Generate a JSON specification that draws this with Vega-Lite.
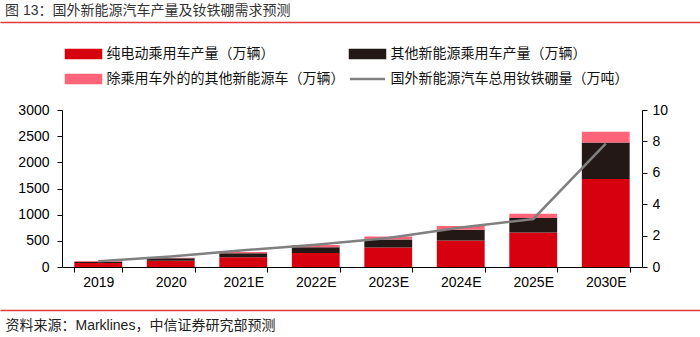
{
  "$schema": "https://vega.github.io/schema/vega-lite/v6.json",
  "width": 580,
  "height": 157,
  "autosize": {"type": "none"},
  "padding": {"left": 62, "top": 110, "right": 58, "bottom": 70},
  "background": "white",
  "config": {
    "view": {"stroke": null},
    "font": "Liberation Sans, Noto Sans CJK SC",
    "axis": {"grid": false, "domainColor": "#000", "tickColor": "#000", "labelColor": "#000", "labelFont": "Liberation Sans, Noto Sans CJK SC", "labelFontSize": 14, "tickSize": 5, "title": null}
  },
  "title": {
    "text": "图 13：国外新能源汽车产量及钕铁硼需求预测",
    "anchor": "start",
    "frame": "group",
    "dx": -57,
    "offset": 4,
    "fontSize": 14,
    "fontWeight": "normal",
    "color": "#333",
    "font": "Liberation Sans, Noto Sans CJK SC"
  },
  "datasets": {
    "bars": [
      {"year": "2019", "type": "纯电动乘用车产量（万辆）", "value": 75},
      {"year": "2019", "type": "其他新能源乘用车产量（万辆）", "value": 25},
      {"year": "2019", "type": "除乘用车外的的其他新能源车（万辆）", "value": 15},
      {"year": "2020", "type": "纯电动乘用车产量（万辆）", "value": 120},
      {"year": "2020", "type": "其他新能源乘用车产量（万辆）", "value": 45},
      {"year": "2020", "type": "除乘用车外的的其他新能源车（万辆）", "value": 13},
      {"year": "2021E", "type": "纯电动乘用车产量（万辆）", "value": 185},
      {"year": "2021E", "type": "其他新能源乘用车产量（万辆）", "value": 77},
      {"year": "2021E", "type": "除乘用车外的的其他新能源车（万辆）", "value": 25},
      {"year": "2022E", "type": "纯电动乘用车产量（万辆）", "value": 267},
      {"year": "2022E", "type": "其他新能源乘用车产量（万辆）", "value": 109},
      {"year": "2022E", "type": "除乘用车外的的其他新能源车（万辆）", "value": 44},
      {"year": "2023E", "type": "纯电动乘用车产量（万辆）", "value": 375},
      {"year": "2023E", "type": "其他新能源乘用车产量（万辆）", "value": 152},
      {"year": "2023E", "type": "除乘用车外的的其他新能源车（万辆）", "value": 58},
      {"year": "2024E", "type": "纯电动乘用车产量（万辆）", "value": 508},
      {"year": "2024E", "type": "其他新能源乘用车产量（万辆）", "value": 204},
      {"year": "2024E", "type": "除乘用车外的的其他新能源车（万辆）", "value": 71},
      {"year": "2025E", "type": "纯电动乘用车产量（万辆）", "value": 661},
      {"year": "2025E", "type": "其他新能源乘用车产量（万辆）", "value": 275},
      {"year": "2025E", "type": "除乘用车外的的其他新能源车（万辆）", "value": 82},
      {"year": "2030E", "type": "纯电动乘用车产量（万辆）", "value": 1680},
      {"year": "2030E", "type": "其他新能源乘用车产量（万辆）", "value": 700},
      {"year": "2030E", "type": "除乘用车外的的其他新能源车（万辆）", "value": 204}
    ],
    "line": [
      {"year": "2019", "ndfeb": 0.36},
      {"year": "2020", "ndfeb": 0.67},
      {"year": "2021E", "ndfeb": 1.06},
      {"year": "2022E", "ndfeb": 1.42},
      {"year": "2023E", "ndfeb": 1.85},
      {"year": "2024E", "ndfeb": 2.52},
      {"year": "2025E", "ndfeb": 3.06},
      {"year": "2030E", "ndfeb": 7.86}
    ]
  },
  "layer": [
    {
      "layer": [
        {
          "data": {"name": "bars"},
          "transform": [
            {"calculate": "indexof(['纯电动乘用车产量（万辆）', '其他新能源乘用车产量（万辆）', '除乘用车外的的其他新能源车（万辆）'], datum.type)", "as": "stackOrder"}
          ],
          "mark": {"type": "bar"},
          "encoding": {
            "x": {
              "field": "year", "type": "nominal", "sort": null,
              "scale": {"paddingInner": 0.34, "paddingOuter": 0.17},
              "axis": {"orient": "bottom", "labelAngle": 0, "tickBand": "extent", "labelPadding": 3}
            },
            "y": {
              "field": "value", "type": "quantitative", "stack": "zero",
              "scale": {"domain": [0, 3000], "nice": false},
              "axis": {"orient": "left", "values": [0, 500, 1000, 1500, 2000, 2500, 3000], "format": "d", "labelPadding": 8}
            },
            "order": {"field": "stackOrder", "type": "quantitative", "sort": "ascending"},
            "color": {
              "field": "type", "type": "nominal",
              "scale": {
                "domain": ["纯电动乘用车产量（万辆）", "其他新能源乘用车产量（万辆）", "除乘用车外的的其他新能源车（万辆）", "国外新能源汽车总用钕铁硼量（万吨）"],
                "range": ["#D7000F", "#231815", "#FF6478", "#808080"]
              },
              "legend": {
                "orient": "none",
                "legendX": 14.5,
                "legendY": -63,
                "direction": "horizontal",
                "columns": 2,
                "columnPadding": 0,
                "rowPadding": 7,
                "padding": 0,
                "title": null,
                "symbolSize": 100,
                "symbolOffset": 0,
                "labelOffset": 16,
                "labelFontSize": 14,
                "labelColor": "#111",
                "labelFont": "Liberation Sans, Noto Sans CJK SC",
                "labelLimit": 400,
                "encode": {
                  "symbols": {
                    "update": {
                      "shape": {"signal": "datum.value === '国外新能源汽车总用钕铁硼量（万吨）' ? 'M-3.5,0H3.5' : 'M-3.5,-0.8H3.5V0.8H-3.5Z'"},
                      "fill": {"signal": "datum.value === '国外新能源汽车总用钕铁硼量（万吨）' ? 'transparent' : scale('color', datum.value)"},
                      "stroke": {"signal": "datum.value === '国外新能源汽车总用钕铁硼量（万吨）' ? '#808080' : 'transparent'"},
                      "strokeWidth": {"value": 2.5},
                      "opacity": {"value": 1},
                      "fillOpacity": {"value": 1}
                    }
                  }
                }
              }
            }
          }
        },
        {
          "data": {"name": "line"},
          "mark": {"type": "line", "strokeWidth": 2.5},
          "encoding": {
            "x": {"field": "year", "type": "nominal", "sort": null},
            "y": {
              "field": "ndfeb", "type": "quantitative",
              "scale": {"domain": [0, 10], "nice": false},
              "axis": {"orient": "right", "values": [0, 2, 4, 6, 8, 10], "labelPadding": 5}
            },
            "color": {"datum": "国外新能源汽车总用钕铁硼量（万吨）"}
          }
        }
      ],
      "resolve": {"scale": {"y": "independent"}}
    },
    {
      "data": {"name": "line"},
      "mark": {"type": "line", "opacity": 0},
      "encoding": {
        "x": {
          "field": "year", "type": "nominal", "sort": null,
          "scale": {"range": [-62, 638]},
          "axis": {"orient": "top", "offset": 88, "labels": false, "ticks": false, "domainColor": "#E0393E", "domainWidth": 1.5}
        },
        "y": {"field": "ndfeb", "type": "quantitative", "axis": null}
      }
    },
    {
      "data": {"name": "line"},
      "mark": {"type": "line", "opacity": 0},
      "encoding": {
        "x": {
          "field": "year", "type": "nominal", "sort": null,
          "scale": {"range": [-62, 638]},
          "axis": {"orient": "bottom", "offset": 43, "labels": false, "ticks": false, "domainColor": "#E0393E", "domainWidth": 1.5,
            "title": "资料来源：Marklines，中信证券研究部预测", "titleAnchor": "start", "titleAlign": "left", "titleBaseline": "middle",
            "titleX": -57, "titleY": 15, "titleFontSize": 14, "titleFontWeight": "normal", "titleColor": "#222",
            "titleFont": "Liberation Sans, Noto Sans CJK SC"}
        },
        "y": {"field": "ndfeb", "type": "quantitative", "axis": null}
      }
    }
  ],
  "resolve": {"scale": {"x": "independent", "y": "independent"}, "axis": {"x": "independent"}}
}
